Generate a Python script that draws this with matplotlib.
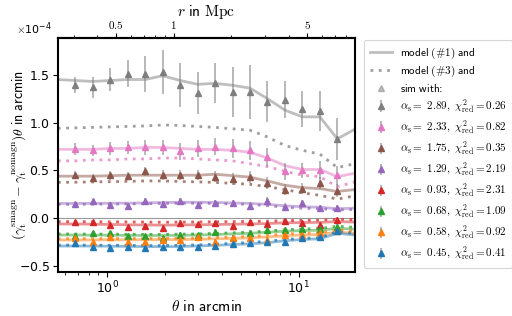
import numpy as np
import matplotlib
matplotlib.use("Agg")
import matplotlib.pyplot as plt
from matplotlib.lines import Line2D
from matplotlib.ticker import ScalarFormatter, FixedLocator, NullFormatter, LogLocator, FixedFormatter

plt.rcParams['mathtext.fontset'] = 'cm'
plt.rcParams['font.family'] = ['DejaVu Sans']
plt.rcParams['axes.formatter.use_mathtext'] = True

# theta grid of the models (arcmin); simulations use the inner 16 points
theta_model = [0.552, 0.681, 0.840, 1.037, 1.280, 1.579, 1.948, 2.404, 2.967,
               3.661, 4.518, 5.575, 6.880, 8.490, 10.48, 12.93, 15.95, 19.69]
theta_sim = theta_model[1:17]

alphas = ["2.89", "2.33", "1.75", "1.29", "0.93", "0.68", "0.58", "0.45"]
chi2 = ["0.26", "0.82", "0.35", "2.19", "2.31", "1.09", "0.92", "0.41"]
colors = ["tab:gray", "tab:pink", "tab:brown", "tab:purple", "tab:red",
          "tab:green", "tab:orange", "tab:blue"]

# values in units of 1e-4
model1_gray = [1.45, 1.44, 1.43, 1.44, 1.45, 1.45, 1.49, 1.44, 1.40, 1.41, 1.39, 1.36, 1.25, 1.13, 1.06, 1.06, 0.83, 0.93]
model3_gray = [0.94, 0.945, 0.95, 0.955, 0.96, 0.965, 0.975, 0.97, 0.96, 0.95, 0.935, 0.92, 0.85, 0.76, 0.71, 0.67, 0.53, 0.57]
sim_gray = [1.39, 1.37, 1.45, 1.51, 1.51, 1.53, 1.39, 1.31, 1.41, 1.32, 1.32, 1.22, 1.24, 1.14, 1.12, 0.83]
err_gray = [0.085, 0.11, 0.12, 0.14, 0.19, 0.23, 0.23, 0.22, 0.21, 0.26, 0.28, 0.21, 0.19, 0.19, 0.21, 0.22]

model1_pink = [0.72, 0.72, 0.72, 0.73, 0.73, 0.74, 0.74, 0.73, 0.72, 0.72, 0.71, 0.69, 0.63, 0.55, 0.51, 0.51, 0.435, 0.47]
model3_pink = [0.60, 0.60, 0.61, 0.61, 0.62, 0.62, 0.63, 0.63, 0.62, 0.61, 0.60, 0.57, 0.54, 0.49, 0.45, 0.435, 0.33, 0.38]
sim_pink = [0.725, 0.71, 0.73, 0.74, 0.74, 0.74, 0.70, 0.73, 0.75, 0.73, 0.71, 0.64, 0.49, 0.50, 0.505, 0.45]
err_pink = [0.06, 0.06, 0.07, 0.07, 0.08, 0.08, 0.09, 0.09, 0.09, 0.10, 0.10, 0.09, 0.09, 0.08, 0.09, 0.10]

model1_brown = [0.44, 0.44, 0.44, 0.445, 0.45, 0.45, 0.45, 0.45, 0.45, 0.46, 0.445, 0.43, 0.39, 0.345, 0.32, 0.31, 0.28, 0.30]
model3_brown = [0.375, 0.377, 0.38, 0.383, 0.386, 0.39, 0.39, 0.385, 0.38, 0.375, 0.365, 0.355, 0.33, 0.30, 0.265, 0.24, 0.20, 0.235]
sim_brown = [0.453, 0.425, 0.45, 0.44, 0.49, 0.45, 0.45, 0.45, 0.435, 0.41, 0.43, 0.37, 0.30, 0.31, 0.37, 0.29]
err_brown = [0.04, 0.04, 0.045, 0.045, 0.05, 0.05, 0.055, 0.055, 0.06, 0.06, 0.065, 0.06, 0.06, 0.055, 0.06, 0.065]

model1_purple = [0.155, 0.155, 0.155, 0.157, 0.158, 0.16, 0.165, 0.167, 0.167, 0.165, 0.16, 0.155, 0.145, 0.13, 0.12, 0.115, 0.10, 0.105]
model3_purple = [0.145, 0.146, 0.147, 0.148, 0.15, 0.152, 0.155, 0.157, 0.157, 0.155, 0.15, 0.145, 0.132, 0.115, 0.105, 0.10, 0.087, 0.092]
sim_purple = [0.15, 0.18, 0.14, 0.13, 0.18, 0.146, 0.18, 0.14, 0.157, 0.157, 0.13, 0.185, 0.12, 0.157, 0.105, 0.105]
err_purple = [0.025, 0.025, 0.028, 0.028, 0.03, 0.03, 0.032, 0.032, 0.035, 0.035, 0.037, 0.037, 0.035, 0.033, 0.035, 0.037]

model1_red = [-0.06, -0.06, -0.062, -0.065, -0.068, -0.07, -0.072, -0.07, -0.068, -0.066, -0.062, -0.06, -0.055, -0.048, -0.045, -0.043, -0.035, -0.04]
model3_red = [-0.035, -0.035, -0.036, -0.037, -0.038, -0.04, -0.042, -0.04, -0.038, -0.037, -0.035, -0.033, -0.03, -0.025, -0.022, -0.02, -0.01, -0.015]
sim_red = [-0.035, -0.04, -0.07, -0.088, -0.077, -0.098, -0.046, -0.06, -0.052, -0.077, -0.042, -0.06, -0.025, -0.046, -0.07, -0.018]
err_red = [0.02, 0.02, 0.022, 0.022, 0.024, 0.024, 0.025, 0.025, 0.026, 0.026, 0.027, 0.027, 0.026, 0.025, 0.026, 0.027]

model1_green = [-0.175, -0.175, -0.176, -0.177, -0.178, -0.18, -0.18, -0.178, -0.175, -0.17, -0.163, -0.157, -0.146, -0.135, -0.128, -0.125, -0.105, -0.115]
model3_green = [-0.164, -0.164, -0.165, -0.166, -0.167, -0.168, -0.168, -0.166, -0.163, -0.158, -0.152, -0.145, -0.133, -0.12, -0.112, -0.108, -0.082, -0.095]
sim_green = [-0.185, -0.15, -0.157, -0.19, -0.19, -0.21, -0.175, -0.18, -0.14, -0.21, -0.15, -0.122, -0.122, -0.112, -0.112, -0.088]
err_green = [0.022, 0.022, 0.024, 0.024, 0.026, 0.026, 0.028, 0.028, 0.03, 0.03, 0.03, 0.03, 0.028, 0.027, 0.028, 0.03]

model1_orange = [-0.227, -0.227, -0.226, -0.225, -0.225, -0.224, -0.223, -0.222, -0.22, -0.215, -0.21, -0.205, -0.195, -0.183, -0.175, -0.17, -0.145, -0.157]
model3_orange = [-0.213, -0.213, -0.213, -0.212, -0.212, -0.212, -0.211, -0.21, -0.207, -0.202, -0.197, -0.19, -0.178, -0.165, -0.157, -0.152, -0.12, -0.135]
sim_orange = [-0.21, -0.245, -0.2, -0.245, -0.245, -0.227, -0.227, -0.2, -0.245, -0.21, -0.21, -0.227, -0.18, -0.175, -0.157, -0.13]
err_orange = [0.022, 0.022, 0.024, 0.024, 0.026, 0.026, 0.028, 0.028, 0.03, 0.03, 0.03, 0.03, 0.028, 0.027, 0.028, 0.03]

model1_blue = [-0.29, -0.29, -0.291, -0.292, -0.294, -0.296, -0.297, -0.295, -0.29, -0.283, -0.275, -0.267, -0.255, -0.235, -0.222, -0.215, -0.157, -0.175]
model3_blue = [-0.28, -0.28, -0.281, -0.282, -0.283, -0.285, -0.285, -0.283, -0.278, -0.27, -0.262, -0.253, -0.24, -0.222, -0.21, -0.203, -0.14, -0.158]
sim_blue = [-0.26, -0.297, -0.315, -0.297, -0.307, -0.305, -0.305, -0.305, -0.29, -0.27, -0.26, -0.25, -0.245, -0.21, -0.2, -0.133]
err_blue = [0.022, 0.022, 0.024, 0.024, 0.026, 0.026, 0.028, 0.028, 0.03, 0.03, 0.03, 0.03, 0.028, 0.027, 0.028, 0.03]

model1 = [model1_gray, model1_pink, model1_brown, model1_purple, model1_red, model1_green, model1_orange, model1_blue]
model3 = [model3_gray, model3_pink, model3_brown, model3_purple, model3_red, model3_green, model3_orange, model3_blue]
sims = [sim_gray, sim_pink, sim_brown, sim_purple, sim_red, sim_green, sim_orange, sim_blue]
errs = [err_gray, err_pink, err_brown, err_purple, err_red, err_green, err_orange, err_blue]

scale = 1e-4
theta_to_r = 0.45  # Mpc per arcmin

fig = plt.figure(figsize=(5.12, 3.16), dpi=100)
ax = fig.add_axes([0.113, 0.139, 0.580, 0.741])

ax.axhline(0, color='gray', lw=0.8, alpha=0.8, zorder=1)

containers = []
for c, m1, m3, s, e, a, ch in zip(colors, model1, model3, sims, errs, alphas, chi2):
    ax.plot(theta_model, np.array(m1) * scale, color=c, lw=2, alpha=0.5, zorder=2)
    ax.plot(theta_model, np.array(m3) * scale, color=c, lw=2, ls=(0, (1, 2)), alpha=0.75, zorder=2)
    cont = ax.errorbar(theta_sim, np.array(s) * scale, yerr=np.array(e) * scale,
                       fmt='^', color=c, ms=5, ecolor='gray', elinewidth=1.3,
                       zorder=3,
                       label=r"$\alpha_{\rm s}{=}\ \mathsf{" + a + r"},\ \chi^2_{\rm red} = " + ch + "$")
    for bar in cont[2]:
        bar.set_alpha(0.6)
    containers.append(cont)

ax.set_xscale('log')
ax.set_xlim(theta_model[0], theta_model[-1])
ax.set_ylim(-0.5625e-4, 1.885e-4)

fmt = ScalarFormatter(useMathText=True)
fmt.set_powerlimits((-3, 3))
ax.yaxis.set_major_formatter(fmt)
ax.yaxis.set_major_locator(FixedLocator([-0.5e-4, 0, 0.5e-4, 1.0e-4, 1.5e-4]))
ax.yaxis.get_offset_text().set_fontsize(8)
ax.yaxis.get_offset_text().set_x(-0.14)

for sp in ax.spines.values():
    sp.set_linewidth(1.5)
    sp.set_color('black')
ax.tick_params(axis='both', which='major', direction='out', length=3.5, width=0.8, labelsize=9, pad=2)
ax.tick_params(axis='both', which='minor', direction='out', length=2, width=0.6)
ax.tick_params(axis='y', which='both', right=False)

ax.set_xlabel(r"$\theta\ \mathsf{in\ arcmin}$", fontsize=11, labelpad=2)
ax.set_ylabel(r"$(\gamma_{\rm t}^{\rm smagn}-\gamma_{\rm t}^{\rm nomagn})\theta\ \mathsf{in\ arcmin}$",
              fontsize=10)
ax.yaxis.set_label_coords(-0.098, 0.5)

sec = ax.secondary_xaxis('top', functions=(lambda t: t * theta_to_r, lambda r: r / theta_to_r))
sec.set_xscale('log')
sec.xaxis.set_major_locator(FixedLocator([0.5, 1, 5]))
sec.xaxis.set_major_formatter(FixedFormatter([r"$0.5$", r"$1$", r"$5$"]))
sec.xaxis.set_minor_locator(LogLocator(base=10, subs=np.arange(2, 10) * 1.0, numticks=20))
sec.xaxis.set_minor_formatter(NullFormatter())
sec.tick_params(which='major', direction='out', length=3.5, width=0.8, labelsize=8, pad=1.5)
sec.tick_params(which='minor', direction='out', length=2, width=0.6)
sec.set_xlabel(r"$r\ \mathsf{in}\ \mathrm{Mpc}$", fontsize=11, labelpad=2)
sec.spines['top'].set_linewidth(1.5)

h_m1 = Line2D([], [], color='gray', lw=2, alpha=0.5)
h_m3 = Line2D([], [], color='gray', lw=2, ls=(0, (1, 2)), alpha=0.75)
h_sim = Line2D([], [], color='gray', marker='^', ls='none', ms=5, alpha=0.5)
handles = [h_m1, h_m3, h_sim] + containers
labels = [r"$\mathsf{model\ (\#1)\ and}$", r"$\mathsf{model\ (\#3)\ and}$",
          r"$\mathsf{sim\ with}$:"] + [c.get_label() for c in containers]
leg = ax.legend(handles, labels, loc='center left', bbox_to_anchor=(1.02, 0.505),
                fontsize=8, frameon=True, fancybox=True, handlelength=2.0,
                handletextpad=0.7, labelspacing=0.28, borderpad=0.5, borderaxespad=0.3)
leg.get_frame().set_edgecolor('#cccccc')
leg.get_frame().set_linewidth(0.8)

fig.savefig("out.png", dpi=100)
